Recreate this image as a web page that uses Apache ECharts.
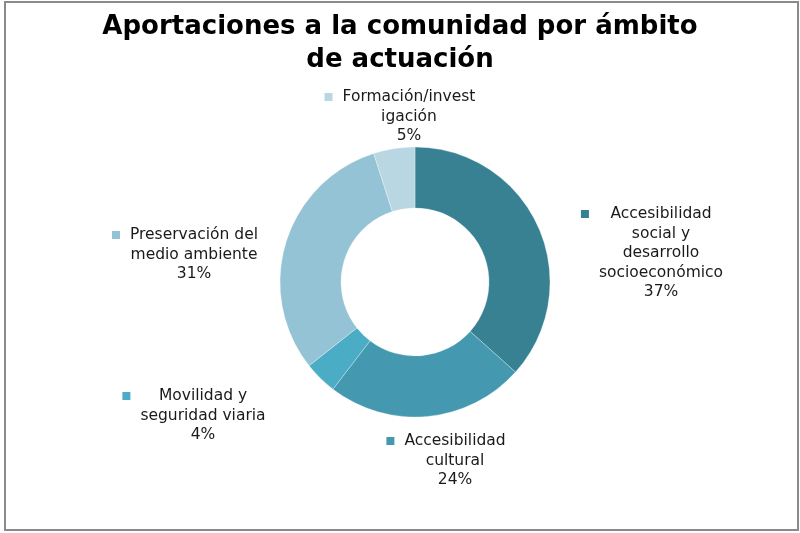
<!DOCTYPE html>
<html>
<head>
<meta charset="utf-8">
<style>
  html, body { margin: 0; padding: 0; background: #ffffff; }
  #chart { width: 800px; height: 533px; }
</style>
<script src="https://cdn.jsdelivr.net/npm/echarts@6/dist/echarts.min.js"></script>
</head>
<body>
<div id="chart"></div>
<script>
// Contributions to the community by area of activity (percent of total)
const categories = [
  'Accesibilidad\nsocial y\ndesarrollo\nsocioeconómico',
  'Accesibilidad\ncultural',
  'Movilidad y\nseguridad viaria',
  'Preservación del\nmedio ambiente',
  'Formación/invest\nigación'
];
const values = [37, 24, 4, 31, 5];
const colors = ['#378193', '#4499b0', '#4bacc6', '#93c3d5', '#b9d7e3'];

// Label anchor (horizontal centre of the text lines, centre of the first line)
const labelAnchors = [
  [661, 214],
  [455, 441],
  [203, 396],
  [194, 235],
  [409, 97]
];

const FONT = 'DejaVu Sans';
const LINE_H = 19.5;
const KEY = 8, KEY_GAP = 10;

function buildLabel(name, value) {
  const lines = name.split('\n').concat([value + '%']);
  return lines.map(function (ln, i) {
    return (i === 0 ? '{sq|}{gap|}' : '{sp|}') + '{t|' + ln + '}';
  }).join('\n');
}

const data = categories.map(function (name, i) {
  return {
    name: name,
    value: values[i],
    itemStyle: { color: colors[i] },
    label: {
      formatter: buildLabel(name, values[i]),
      rich: {
        sq: { width: KEY, height: KEY, backgroundColor: colors[i], align: 'left' },
        gap: { width: KEY_GAP, height: LINE_H, align: 'left' },
        sp: { width: KEY + KEY_GAP, height: LINE_H, align: 'left' },
        t: { fontFamily: FONT, fontSize: 15.5, color: '#1a1a1a', lineHeight: LINE_H, align: 'center' }
      }
    }
  };
});

const chart = echarts.init(document.getElementById('chart'), null, { renderer: 'canvas' });

chart.setOption({
  backgroundColor: '#ffffff',
  animation: false,
  title: {
    text: 'Aportaciones a la comunidad por ámbito\nde actuación',
    left: 'center',
    top: 6,
    textStyle: {
      fontFamily: FONT,
      fontWeight: 'bold',
      fontSize: 26,
      lineHeight: 33,
      color: '#000000'
    }
  },
  graphic: [{
    type: 'rect',
    shape: { x: 5, y: 2, width: 793, height: 528 },
    style: { fill: 'none', stroke: '#8a8a8a', lineWidth: 2 },
    silent: true,
    z: 100
  }],
  series: [{
    type: 'pie',
    center: [415, 282],
    radius: [74, 135],
    startAngle: 90,
    clockwise: true,
    avoidLabelOverlap: false,
    itemStyle: { borderColor: 'rgba(255,255,255,0.6)', borderWidth: 0.5 },
    label: {
      show: true,
      position: 'outside',
      align: 'center',
      fontFamily: FONT
    },
    labelLine: { show: false },
    labelLayout: function (params) {
      const a = labelAnchors[params.dataIndex];
      return {
        x: a[0] - (KEY + KEY_GAP) / 2,
        y: a[1] - LINE_H / 2,
        align: 'center',
        verticalAlign: 'top'
      };
    },
    emphasis: { disabled: true },
    data: data
  }]
});
</script>
</body>
</html>
